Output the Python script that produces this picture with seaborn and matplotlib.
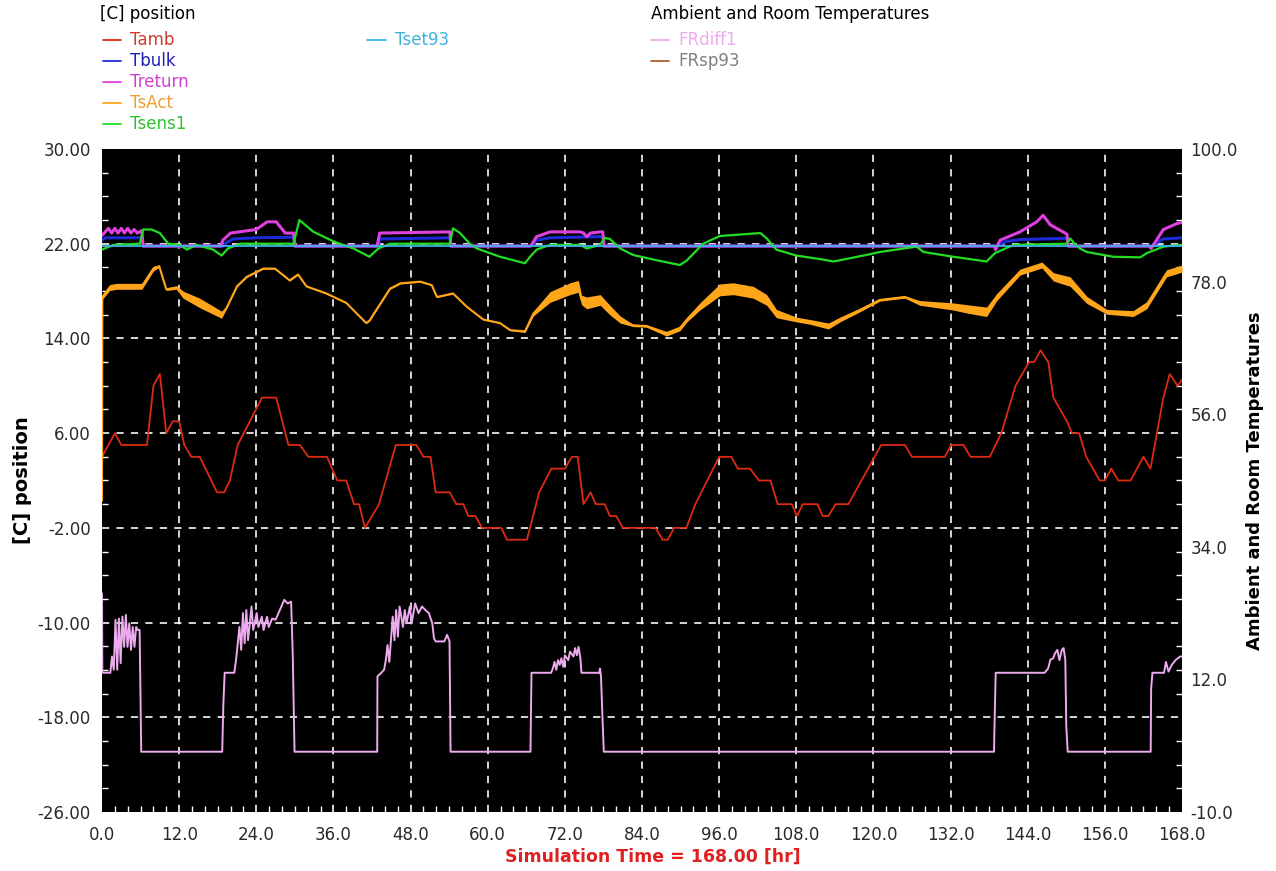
import numpy as np
import pandas as pd
import matplotlib
matplotlib.use("Agg")
import matplotlib.pyplot as plt
from matplotlib.lines import Line2D
from matplotlib.ticker import MultipleLocator, FormatStrFormatter
import seaborn as sns

# ---------------- data ----------------
Tamb_t = [0, 2, 3, 7, 8, 9, 10, 11, 12, 12.8, 13.9, 15.2, 17.9, 19, 19.9, 21.1, 24.9, 27.1, 29, 30.8,
          32.1, 35, 36.6, 38, 39.2, 40, 40.9, 43.1, 45.7, 48.9, 50, 51.1, 51.9, 54.1, 55.1, 56.2, 57,
          58.1, 59.1, 62.1, 63, 66.1, 68, 69.9, 72, 73.1, 74, 74.9, 76, 76.8, 78.2, 79, 80, 81, 86.1,
          87.2, 88, 89, 90.9, 92.3, 96, 97.9, 98.9, 100.8, 102.2, 104, 105.1, 107.3, 108.1, 109, 111.3,
          112.1, 113, 114.1, 116.1, 121.2, 124.9, 126, 131.1, 132.1, 134, 135.1, 138.1, 139.9, 142.1,
          144.2, 145, 146, 147.2, 148, 150.1, 150.9, 152, 153.1, 155.2, 156, 157, 158.1, 160, 162,
          163.1, 165.1, 166.1, 167.3, 168]
Tamb_v = [4, 6, 5, 5, 10, 11, 6, 7, 7, 5, 4, 4, 1, 1, 2, 5, 9, 9, 5, 5,
          4, 4, 2, 2, 0, 0, -2, 0, 5, 5, 4, 4, 1, 1, 0, 0, -1,
          -1, -2, -2, -3, -3, 1, 3, 3, 4, 4, 0, 1, 0, 0, -1, -1, -2, -2,
          -3, -3, -2, -2, 0, 4, 4, 3, 3, 2, 2, 0, 0, -1, 0, 0,
          -1, -1, 0, 0, 5, 5, 4, 4, 5, 5, 4, 4, 6, 10,
          12, 12, 13, 12, 9, 7, 6, 6, 4, 2, 2, 3, 2, 2, 4,
          3, 9, 11, 10, 10.5]

Tbulk_t = [0, 0.5, 6.2, 6.4, 18.8, 19.4, 20.4, 24, 29.8, 30.0, 42.9, 43.3, 54.1, 54.3, 66.7, 67.6,
           69.7, 77.5, 77.9, 78.1, 139.0, 140.7, 142.8, 149.5, 150.1, 150.3, 163.2, 165.1, 168]
Tbulk_v = [22.3, 22.5, 22.5, 21.8, 21.8, 22.1, 22.4, 22.5, 22.55, 21.8, 21.8, 22.4, 22.5, 21.8, 21.8, 22.3,
           22.5, 22.6, 22.6, 21.8, 21.8, 22.2, 22.35, 22.45, 22.45, 21.8, 21.8, 22.4, 22.5]

Treturn_t = [0, 0.5, 1, 1.5, 2, 2.5, 3, 3.5, 4, 4.5, 5, 5.5, 6.2, 6.4, 18.5, 18.8, 20.0, 24.0, 25.7,
             27.1, 28.5, 29.8, 30.0, 42.8, 43.2, 54.1, 54.3, 66.6, 66.8, 67.6, 69.7, 74.4, 74.9, 75.4,
             76.0, 77.5, 77.9, 78.1, 138.8, 139.0, 139.7, 142.8, 145.4, 146.4, 147.5, 149.8, 150.1,
             150.3, 162.9, 163.2, 165.1, 167.2, 168]
Treturn_v = [22.7, 23.0, 23.3, 22.9, 23.3, 22.9, 23.3, 22.9, 23.3, 22.9, 23.2, 22.9, 23.1, 21.8, 21.8, 22.3,
             22.9, 23.2, 23.85, 23.85, 22.9, 22.9, 21.8, 21.8, 22.9, 23.0, 21.8, 21.8, 21.9, 22.6, 23.0,
             23.0, 22.9, 22.6, 22.9, 23.0, 23.0, 21.8, 21.8, 21.5, 22.3, 23.0, 23.85, 24.4, 23.6, 22.9,
             22.8, 21.8, 21.8, 21.6, 23.2, 23.7, 23.8]

TsAct_t = [0, 0.05, 1.2, 2.3, 6.2, 8.0, 8.9, 10.0, 11.6, 12.6,
           15.2, 18.6, 19.4, 21.0, 22.5, 25.1, 26.9, 29.2, 30.5, 31.8,
           34.9, 38.0, 41.1, 41.6, 44.8, 46.4, 49.5, 51.3, 52.1, 54.6,
           56.7, 59.3, 61.9, 63.5, 65.8, 67.1, 69.7, 72.8, 74.1, 74.6,
           75.4, 77.5, 79.0, 80.6, 82.6, 84.7, 87.8, 89.9, 91.0, 93.0,
           96.1, 98.2, 101.3, 103.4, 104.9, 108.0, 110.1, 113.0, 114.8, 117.9,
           121.0, 124.9, 127.2, 132.4, 134.5, 137.6, 139.2, 142.8, 146.2, 148.0,
           150.6, 153.2, 156.3, 160.4, 162.5, 165.6, 167.4, 168]
TsAct_v = [0.3, 17.5, 18.3, 18.4, 18.4, 19.9, 20.1, 18.15, 18.3, 17.7,
           17.0, 16.0, 16.6, 18.4, 19.2, 19.9, 19.9, 18.9, 19.4, 18.4,
           17.8, 17.0, 15.3, 15.5, 18.2, 18.65, 18.8, 18.5, 17.5, 17.8,
           16.7, 15.6, 15.3, 14.7, 14.6, 16.1, 17.5, 18.2, 18.4, 17.25,
           17.0, 17.25, 16.4, 15.6, 15.1, 15.05, 14.4, 14.85, 15.6, 16.7,
           18.1, 18.2, 17.9, 17.25, 16.1, 15.6, 15.4, 15.05, 15.6, 16.4,
           17.25, 17.5, 17.0, 16.7, 16.5, 16.25, 17.5, 19.6, 20.2, 19.2,
           18.8, 17.25, 16.25, 16.1, 16.8, 19.5, 19.8, 19.9]
# half-width of the noisy orange band around TsAct
TsAct_spread = [0.0, 0.2, 0.25, 0.25, 0.25, 0.2, 0.1, 0.1, 0.15, 0.3,
                0.4, 0.3, 0.05, 0.05, 0.05, 0.05, 0.05, 0.05, 0.05, 0.05,
                0.05, 0.05, 0.05, 0.05, 0.05, 0.05, 0.05, 0.05, 0.05, 0.05,
                0.05, 0.05, 0.05, 0.05, 0.1, 0.2, 0.45, 0.5, 0.5, 0.4,
                0.5, 0.45, 0.4, 0.3, 0.1, 0.1, 0.2, 0.2, 0.2, 0.3,
                0.5, 0.5, 0.5, 0.45, 0.35, 0.2, 0.2, 0.25, 0.2, 0.15,
                0.1, 0.1, 0.2, 0.3, 0.35, 0.4, 0.3, 0.25, 0.25, 0.35,
                0.4, 0.3, 0.2, 0.25, 0.3, 0.3, 0.3, 0.3]

Tsens1_t = [0, 1.8, 5.9, 6.4, 7.7, 9.0, 10.3, 12.1, 13.2, 14.7, 17.3, 18.6, 19.6, 21.5, 29.8, 30.7, 32.9,
            36.0, 39.1, 41.6, 43.0, 44.8, 54.1, 54.6, 55.7, 57.2, 58.3, 61.9, 65.8, 66.6, 67.6, 69.7,
            74.4, 75.4, 77.5, 78.2, 79.0, 80.6, 82.6, 86.3, 89.9, 91.0, 93.5, 96.1, 102.4, 103.4, 104.9,
            108.0, 111.7, 113.8, 118.9, 121.0, 126.7, 127.8, 132.4, 137.6, 138.9, 141.8, 150.1, 150.6,
            151.3, 152.1, 153.2, 157.3, 161.5, 162.5, 165.1, 167.7, 168]
Tsens1_v = [21.5, 21.9, 22.0, 23.2, 23.2, 22.9, 22.0, 21.9, 21.5, 21.9, 21.5, 21.0, 21.6, 22.0, 22.0, 24.0, 23.0,
            22.2, 21.6, 20.9, 21.6, 22.0, 22.0, 23.3, 22.9, 22.0, 21.6, 20.9, 20.35, 20.9, 21.5, 21.9,
            21.9, 21.6, 21.9, 22.5, 22.4, 21.6, 21.05, 20.6, 20.2, 20.6, 22.0, 22.65, 22.9, 22.45, 21.5,
            21.0, 20.7, 20.5, 21.05, 21.3, 21.75, 21.3, 20.9, 20.5, 21.2, 21.9, 22.0, 22.45,
            22.0, 21.6, 21.3, 20.9, 20.85, 21.2, 21.75, 21.9, 21.9]

Tset93_t = [0, 168]
Tset93_v = [21.8, 21.8]

FRdiff1_t = [0, 0.05, 1.3, 1.56, 1.83, 2.10, 2.37, 2.63, 2.90, 3.17, 3.44, 3.71, 3.97, 4.24, 4.51, 4.78,
             5.05, 5.31, 5.58, 5.85, 6.0, 6.1,
             18.7, 18.87, 19.08, 20.58, 20.85, 21.38, 21.65, 21.92, 22.19, 22.45, 22.72, 23.26, 23.52,
             24.06, 24.33, 24.86, 25.13, 25.67, 25.94, 26.47, 27.01, 27.54, 28.35, 28.88, 29.42, 29.68, 29.95,
             42.81, 42.85, 43.35, 43.88, 44.15, 44.41, 44.69, 45.22, 45.49, 45.76, 46.03, 46.29, 46.82,
             47.1, 47.37, 47.89, 48.16, 48.71, 49.23, 49.78, 50.31, 50.85, 51.38, 51.64, 51.91, 53.25,
             53.68, 54.06, 54.22,
             66.65, 66.81, 69.86, 70.13, 70.39, 70.67, 70.93, 71.2, 71.46, 71.74, 72.0, 72.53, 72.8,
             73.34, 73.6, 73.87, 74.13, 74.42, 74.58, 77.36, 77.47, 77.62, 77.9, 78.06,
             138.76, 138.8, 139.02, 146.63, 147.17, 147.54, 147.97, 148.23, 148.61, 148.93, 149.31,
             149.58, 149.85, 150.0, 150.22,
             163.13, 163.2, 163.4, 165.2, 165.5, 165.9, 166.4, 167.0, 167.7, 168]
FRdiff1_v = [26.3, 13.1, 13.1, 15.8, 13.6, 21.9, 13.6, 22.1, 14.7, 22.4, 17.4, 22.7, 17.4, 21.3, 16.9, 20.7,
             17.4, 20.7, 20.2, 20.2, 8.3, 0,
             0, 7.7, 13.1, 13.1, 15.2, 20.7, 16.9, 23.0, 18.0, 23.5, 18.5, 24.1, 20.2,
             23.0, 20.7, 22.4, 20.2, 22.4, 20.7, 22.1, 21.9, 23.2, 25.2, 24.6, 24.9, 15.8, 0,
             0, 12.5, 13.0, 13.6, 15.2, 17.7, 14.9, 22.4, 18.5, 23.5, 19.1, 24.1, 20.7,
             23.5, 21.3, 24.1, 21.3, 24.6, 23.0, 24.1, 23.5, 23.0, 21.3, 18.8, 18.3, 18.3,
             19.4, 18.3, 0,
             0, 13.1, 13.1, 13.8, 14.9, 13.6, 15.2, 14.4, 15.5, 14.1, 16.0, 15.2, 16.6,
             15.8, 17.2, 16.0, 17.4, 15.5, 13.1, 13.1, 13.8, 12.5, 4.2, 0,
             0, 2.6, 13.1, 13.1, 13.8, 15.3, 15.5, 16.3, 16.9, 15.2, 16.9,
             17.2, 15.2, 4.2, 0,
             0, 10.5, 13.1, 13.1, 14.9, 13.3, 14.4, 15.2, 15.8, 15.8]

left_names = ["Tamb", "Tbulk", "Treturn", "TsAct", "Tsens1", "Tset93"]
right_names = ["FRdiff1", "FRsp93"]

colors = {"Tamb": "#dd2a12", "Tbulk": "#1e2ad6", "Treturn": "#e040e0", "TsAct": "#ffa51a",
          "Tsens1": "#22dd22", "Tset93": "#3cb4e6", "FRdiff1": "#eeaaee", "FRsp93": "#b0602a"}
label_colors = {"Tamb": "#d03a30", "Tbulk": "#2020b0", "Treturn": "#d040d0", "TsAct": "#f0a030",
                "Tsens1": "#30c030", "Tset93": "#40b0e0", "FRdiff1": "#f0a8f0", "FRsp93": "#808080"}

x_ticks = [0, 12, 24, 36, 48, 60, 72, 84, 96, 108, 120, 132, 144, 156, 168]
left_ticks = [-26, -18, -10, -2, 6, 14, 22, 30]
right_ticks = [-10, 12, 34, 56, 78, 100]

# ---------------- figure ----------------
sns.set_theme(style="white")
plt.rcParams['font.family'] = ['DejaVu Sans']

fig = plt.figure(figsize=(12.76, 8.71), dpi=100)
fig.patch.set_facecolor("white")
ax = fig.add_axes([102 / 1276, 1 - 812 / 871, 1080 / 1276, 663 / 871])
ax.set_facecolor("black")
ax2 = ax.twinx()

series = {
    "Tamb": (Tamb_t, Tamb_v, 1.3),
    "Tbulk": (Tbulk_t, Tbulk_v, 2.2),
    "Treturn": (Treturn_t, Treturn_v, 2.2),
    "TsAct": (TsAct_t, TsAct_v, 1.5),
    "Tsens1": (Tsens1_t, Tsens1_v, 1.6),
    "Tset93": (Tset93_t, Tset93_v, 1.3),
}
for name in left_names:
    t, v, lw = series[name]
    df = pd.DataFrame({"t": t, "v": v})
    if name == "TsAct":
        lo = np.array(v) - np.array(TsAct_spread)
        hi = np.array(v) + np.array(TsAct_spread)
        ax.fill_between(t, lo, hi, color=colors[name], linewidth=0, zorder=2)
    sns.lineplot(data=df, x="t", y="v", ax=ax, color=colors[name], linewidth=lw,
                 estimator=None, sort=False, legend=False)

df_fr = pd.DataFrame({"t": FRdiff1_t, "v": FRdiff1_v})
sns.lineplot(data=df_fr, x="t", y="v", ax=ax2, color=colors["FRdiff1"], linewidth=1.4,
             estimator=None, sort=False, legend=False)

# axes ranges and ticks
ax.set_xlim(0, 168)
ax.set_ylim(-26, 30)
ax2.set_ylim(-10, 100)
ax.set_xticks(x_ticks)
ax.set_yticks(left_ticks)
ax2.set_yticks(right_ticks)
ax.xaxis.set_major_formatter(FormatStrFormatter("%.1f"))
ax.yaxis.set_major_formatter(FormatStrFormatter("%.2f"))
ax2.yaxis.set_major_formatter(FormatStrFormatter("%.1f"))
ax.xaxis.set_minor_locator(MultipleLocator(2))
ax.yaxis.set_minor_locator(MultipleLocator(2))

ax.grid(True, which="major", color="white", linestyle=(0, (4, 4)), linewidth=1.3, alpha=0.9)
ax.set_axisbelow(True)
# no grid line on the frame edges
xg = ax.get_xgridlines()
xg[0].set_visible(False)
xg[-1].set_visible(False)
yg = ax.get_ygridlines()
yg[0].set_visible(False)
yg[-1].set_visible(False)
ax2.grid(False)
ax2.patch.set_alpha(0)

for a in (ax, ax2):
    for s in a.spines.values():
        s.set_visible(False)

ax.tick_params(which="major", length=0, labelsize=12, labelcolor="#2a2a2a", pad=8)
ax.tick_params(axis="x", which="major", pad=10)
ax.tick_params(which="minor", direction="in", color="white", length=4, width=1,
               left=True, bottom=True, right=True, top=False)
ax2.tick_params(which="major", length=0, labelsize=12, labelcolor="#2a2a2a", pad=6)
ax2.tick_params(which="minor", length=0)

ax.set_xlabel("Simulation Time = 168.00 [hr]", fontsize=12.5, fontweight="bold", color="#e02020")
ax.xaxis.label.set_va("center")
ax.xaxis.set_label_coords(0.51, -0.068)
ax.set_ylabel("[C] position", fontsize=14, fontweight="bold", color="black")
ax.yaxis.label.set_va("center")
ax.yaxis.set_label_coords(-0.074, 0.5)
ax2.set_ylabel("Ambient and Room Temperatures", fontsize=13, fontweight="bold", color="black",
               rotation=90)
ax2.yaxis.label.set_va("center")
ax2.yaxis.set_label_coords(1.0676, 0.5)

# ---------------- legend (top) ----------------
W, H = 1276.0, 871.0


def fx(px):
    return px / W


def fy(py):
    return 1 - py / H


fig.text(fx(100), fy(14), "[C] position", fontsize=12, color="black", va="center", ha="left")
fig.text(fx(651), fy(14), "Ambient and Room Temperatures", fontsize=12, color="black",
         va="center", ha="left")

rows = [40, 61, 82, 103, 124]
for name, ry in zip(left_names[:5], rows):
    fig.add_artist(Line2D([fx(103), fx(121)], [fy(ry), fy(ry)], color=colors[name], linewidth=1.3,
                          transform=fig.transFigure))
    fig.text(fx(130), fy(ry), name, fontsize=12, color=label_colors[name], va="center", ha="left")

fig.add_artist(Line2D([fx(367), fx(386)], [fy(40), fy(40)], color=colors["Tset93"], linewidth=1.3,
                      transform=fig.transFigure))
fig.text(fx(395), fy(40), "Tset93", fontsize=12, color=label_colors["Tset93"], va="center", ha="left")

for name, ry in zip(right_names, [40, 61]):
    fig.add_artist(Line2D([fx(651), fx(669)], [fy(ry), fy(ry)], color=colors[name], linewidth=1.3,
                          transform=fig.transFigure))
    fig.text(fx(678), fy(ry), name, fontsize=12, color=label_colors[name], va="center", ha="left")

fig.savefig("out.png", dpi=100, facecolor="white")
